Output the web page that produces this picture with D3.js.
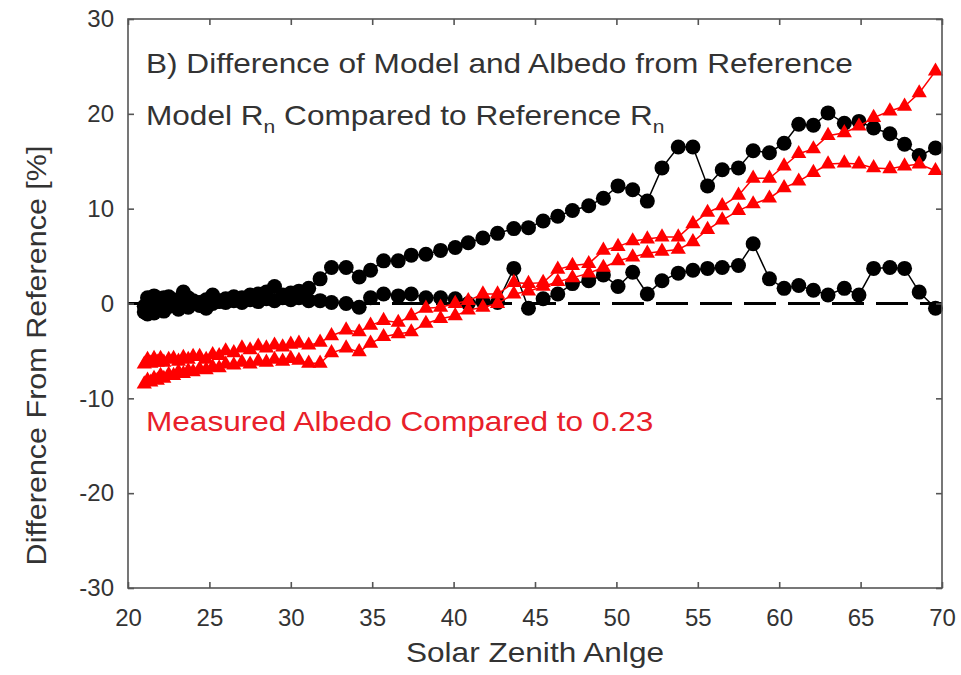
<!DOCTYPE html>
<html>
<head>
<meta charset="utf-8">
<script src="https://cdn.jsdelivr.net/npm/d3@7"></script>
<style>
  html, body { margin: 0; padding: 0; background: #fff; }
  svg { display: block; font-family: "Liberation Sans", Arial, sans-serif; }
</style>
</head>
<body>
<svg id="chart" width="961" height="675"></svg>
<script>
// Solar zenith angle (degrees) shared by all four series
const zenith = [21.0, 21.2, 21.4, 21.6, 21.8, 22.0, 22.2, 22.5, 22.8, 23.1, 23.4, 23.7, 24.0,
  24.4, 24.8, 25.2, 25.6, 26.0, 26.5, 27.0, 27.5, 28.0, 28.5, 29.0, 29.5, 30.0, 30.5,
  31.1, 31.8, 32.5, 33.4, 34.2, 34.9, 35.7, 36.6, 37.4, 38.3, 39.2, 40.1, 40.9, 41.8,
  42.7, 43.7, 44.6, 45.5, 46.4, 47.3, 48.3, 49.2, 50.1, 51.0, 51.9, 52.8, 53.8, 54.7,
  55.6, 56.5, 57.5, 58.4, 59.4, 60.3, 61.2, 62.1, 63.0, 64.0, 64.9, 65.8, 66.8, 67.7,
  68.6, 69.6];

// Model Rn vs reference Rn, afternoon branch (%)
const modelUpper = [-0.3, 0.6, -0.5, 0.8, 0.2, -0.4, 0.6, 0.7, -0.2, 0.3, 1.2, 0.6, 0.2,
  0.1, 0.4, 0.9, 0.3, 0.5, 0.7, 0.6, 0.9, 1.0, 1.2, 1.8, 0.9, 1.1, 1.3,
  1.6, 2.6, 3.8, 3.8, 2.8, 3.5, 4.5, 4.5, 5.1, 5.2, 5.6, 5.9, 6.4, 6.9,
  7.4, 7.9, 8.0, 8.7, 9.2, 9.8, 10.3, 11.1, 12.4, 12.0, 10.8, 14.3, 16.5, 16.5,
  12.4, 14.1, 14.3, 16.1, 15.9, 16.9, 18.9, 18.8, 20.1, 19.0, 19.2, 18.5, 17.9, 16.8,
  15.6, 16.4];

// Model Rn vs reference Rn, morning branch (%)
const modelLower = [-0.9, -1.1, 0.2, -1.0, -0.4, 0.5, -0.8, -0.3, 0.4, -0.6, 0.0, -0.4, 0.3,
  -0.2, -0.5, 0.0, 0.2, 0.1, 0.3, 0.1, 0.4, 0.2, 0.5, 0.3, 0.6, 0.4, 0.6,
  0.3, 0.3, 0.1, 0.0, -0.4, 0.6, 1.0, 0.8, 1.0, 0.6, 0.6, 0.5, 0.0, 0.2,
  0.1, 3.7, -0.5, 0.5, 1.0, 2.1, 2.4, 3.0, 1.8, 3.3, 1.0, 2.4, 3.2, 3.5,
  3.7, 3.8, 4.0, 6.3, 2.6, 1.6, 1.9, 1.4, 0.9, 1.6, 0.9, 3.7, 3.8, 3.7,
  1.2, -0.5];

// Measured albedo vs 0.23, upper branch (%)
const albedoUpper = [-6.4, -5.9, -6.3, -5.8, -6.2, -5.8, -6.2, -5.9, -5.8, -6.1, -5.7, -5.9, -5.6,
  -5.6, -5.9, -5.4, -5.5, -5.0, -5.2, -4.7, -4.9, -4.5, -4.7, -4.4, -4.6, -4.3, -4.2,
  -4.4, -4.1, -3.4, -2.8, -3.0, -2.3, -1.8, -2.0, -1.3, -0.5, -0.4, 0.0, 0.3, 1.0,
  1.0, 2.2, 2.1, 2.2, 3.6, 4.0, 4.2, 5.6, 6.0, 6.6, 6.8, 7.0, 7.0, 8.4,
  9.6, 10.3, 11.4, 13.2, 13.2, 14.5, 15.8, 16.3, 17.7, 18.0, 18.7, 19.6, 20.3, 20.8,
  22.2, 24.5];

// Measured albedo vs 0.23, lower branch (%)
const albedoLower = [-8.5, -8.1, -8.3, -7.9, -8.1, -7.6, -7.9, -7.5, -7.6, -7.2, -7.4, -7.1, -7.2,
  -6.9, -7.0, -6.7, -6.8, -6.4, -6.5, -6.2, -6.4, -6.1, -6.2, -5.9, -6.1, -5.8, -6.0,
  -6.3, -6.3, -5.2, -4.7, -5.1, -4.2, -3.5, -3.2, -3.0, -2.1, -1.6, -1.3, -0.7, -0.4,
  0.0, 1.0, 1.3, 1.8, 2.3, 2.7, 3.2, 3.8, 4.5, 4.9, 5.3, 5.5, 5.7, 6.5,
  7.8, 8.8, 9.8, 10.5, 11.1, 12.2, 12.9, 13.8, 14.7, 14.8, 14.7, 14.3, 14.2, 14.5,
  14.7, 14.0];

const xTicks = [20, 25, 30, 35, 40, 45, 50, 55, 60, 65, 70];
const yTicks = [-30, -20, -10, 0, 10, 20, 30];

const svg = d3.select("#chart");
const plotLeft = 128, plotRight = 942, plotTop = 19, plotBottom = 588;

const x = d3.scaleLinear().domain([20, 70]).range([plotLeft, plotRight]);
const y = d3.scaleLinear().domain([-30, 30]).range([plotBottom, plotTop]);

const axisColor = "#555";
const textColor = "#333";
const red = "#ff0000";
const stretch = 1.17;   // the lettering is set slightly wide

// zero reference line
svg.append("line")
  .attr("x1", x(20)).attr("x2", x(70))
  .attr("y1", y(0)).attr("y2", y(0))
  .attr("stroke", "#000").attr("stroke-width", 3)
  .attr("stroke-dasharray", "32,12");

const pts = vals => zenith.map((z, i) => [z, vals[i]]);
const line = d3.line().x(d => x(d[0])).y(d => y(d[1]));

function drawCircles(vals) {
  const data = pts(vals);
  svg.append("path").datum(data).attr("d", line)
    .attr("fill", "none").attr("stroke", "#000").attr("stroke-width", 1.5);
  svg.append("g").selectAll("circle").data(data).join("circle")
    .attr("cx", d => x(d[0])).attr("cy", d => y(d[1]))
    .attr("r", 7.5).attr("fill", "#000");
}

const tri = d3.symbol().type(d3.symbolTriangle).size(100);
function drawTriangles(vals) {
  const data = pts(vals);
  svg.append("path").datum(data).attr("d", line)
    .attr("fill", "none").attr("stroke", red).attr("stroke-width", 1.5);
  svg.append("g").selectAll("path").data(data).join("path")
    .attr("d", tri)
    .attr("transform", d => `translate(${x(d[0])},${y(d[1])})`)
    .attr("fill", red);
}

drawCircles(modelLower);
drawCircles(modelUpper);
drawTriangles(albedoLower);
drawTriangles(albedoUpper);

// frame with inward ticks on all four sides
svg.append("rect").attr("x", plotLeft).attr("y", plotTop)
  .attr("width", plotRight - plotLeft).attr("height", plotBottom - plotTop)
  .attr("fill", "none").attr("stroke", axisColor).attr("stroke-width", 1.6);

const fmt = d => String(d);
svg.append("g").attr("transform", `translate(0,${plotBottom})`)
  .call(d3.axisBottom(x).tickValues(xTicks).tickFormat(fmt).tickSizeInner(-6).tickSizeOuter(0).tickPadding(21))
  .call(g => g.select(".domain").remove());
svg.append("g").attr("transform", `translate(0,${plotTop})`)
  .call(d3.axisTop(x).tickValues(xTicks).tickSizeInner(-6).tickSizeOuter(0).tickFormat(""))
  .call(g => g.select(".domain").remove());
svg.append("g").attr("transform", `translate(${plotLeft},0)`)
  .call(d3.axisLeft(y).tickValues(yTicks).tickFormat(fmt).tickSizeInner(-6).tickSizeOuter(0).tickPadding(14))
  .call(g => g.select(".domain").remove());
svg.append("g").attr("transform", `translate(${plotRight},0)`)
  .call(d3.axisRight(y).tickValues(yTicks).tickSizeInner(-6).tickSizeOuter(0).tickFormat(""))
  .call(g => g.select(".domain").remove());

svg.selectAll(".tick line").attr("stroke", axisColor).attr("stroke-width", 1.6);
svg.selectAll(".tick text")
  .attr("fill", textColor)
  .style("font-size", "24px")
  .style("font-family", "'Liberation Sans', Arial, sans-serif");

// axis titles
svg.append("text")
  .attr("transform", `translate(${(plotLeft + plotRight) / 2},662) scale(${stretch},1)`)
  .attr("text-anchor", "middle").attr("fill", textColor)
  .style("font-size", "27px")
  .text("Solar Zenith Anlge");

svg.append("text")
  .attr("transform", `translate(46,${(plotTop + plotBottom) / 2 + 52}) rotate(-90) scale(1.13,1)`)
  .attr("text-anchor", "middle").attr("fill", textColor)
  .style("font-size", "27px")
  .text("Difference From Reference [%]");

// annotations
svg.append("text")
  .attr("transform", `translate(146,73) scale(${stretch},1)`)
  .attr("fill", textColor)
  .style("font-size", "27px")
  .text("B) Difference of Model and Albedo from Reference");

const t2 = svg.append("text")
  .attr("transform", `translate(146,125) scale(${stretch},1)`)
  .attr("fill", textColor)
  .style("font-size", "27px");
t2.append("tspan").text("Model R");
t2.append("tspan").attr("dy", 8).style("font-size", "18px").text("n");
t2.append("tspan").attr("dy", -8).text(" Compared to Reference R");
t2.append("tspan").attr("dy", 8).style("font-size", "18px").text("n");

svg.append("text")
  .attr("transform", `translate(146,431) scale(${stretch},1)`)
  .attr("fill", "#e8202a")
  .style("font-size", "27px")
  .text("Measured Albedo Compared to 0.23");
</script>
</body>
</html>
